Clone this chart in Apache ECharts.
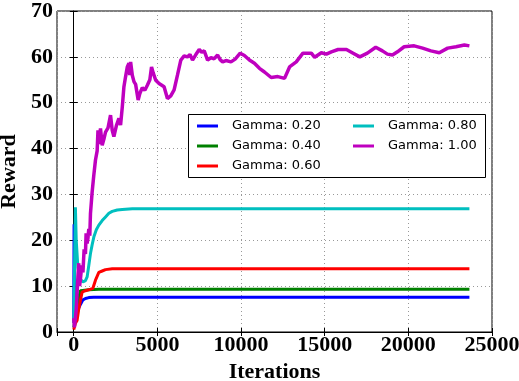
<!DOCTYPE html>
<html>
<head>
<meta charset="utf-8">
<script src="https://cdn.jsdelivr.net/npm/echarts@6/dist/echarts.min.js"></script>
<style>
  html, body { margin: 0; padding: 0; background: #fff; }
  #chart { width: 519px; height: 381px; }
</style>
</head>
<body>
<div id="chart"></div>
<script>
// Reward curves per discount factor, as [iteration, reward] pairs
const gamma020 = [[0, 2], [20, 23.5], [50, 3], [150, 3.5], [250, 4.8], [400, 6], [550, 7], [700, 7.3], [900, 7.5], [1200, 7.6], [23650, 7.6]];
const gamma040 = [[0, 1], [100, 3], [200, 5.4], [300, 7.5], [400, 9], [500, 9.1], [900, 9.2], [1500, 9.3], [23650, 9.3]];
const gamma060 = [[0, 0.5], [100, 1.9], [200, 2.5], [300, 5], [400, 6.9], [500, 8.7], [700, 9], [900, 9.2], [1140, 9.5], [1300, 11.3], [1500, 13.0], [1700, 13.3], [1900, 13.6], [2300, 13.8], [23650, 13.8]];
const gamma080 = [[0, 2], [50, 15], [100, 27.2], [150, 20], [250, 14], [400, 11.5], [550, 10.9], [700, 11.2], [800, 12], [900, 14.5], [1000, 17.1], [1100, 19], [1200, 20.7], [1350, 22.3], [1500, 23.3], [1700, 24.3], [1900, 25.1], [2100, 25.9], [2300, 26.3], [2600, 26.6], [2900, 26.7], [3500, 26.9], [23650, 26.9]];
const gamma100 = [[0, 3], [40, 1.0], [150, 5], [250, 12], [300, 15], [350, 10], [400, 11.5], [480, 14.5], [550, 13], [620, 18], [700, 17], [740, 21.5], [800, 19.3], [850, 20.5], [900, 22.5], [960, 21], [1000, 25.8], [1100, 30.5], [1200, 34.2], [1300, 37.5], [1400, 39.5], [1450, 44], [1500, 41], [1600, 44.4], [1700, 40.7], [1800, 42], [1900, 43.6], [2050, 44.5], [2200, 47.3], [2300, 44], [2400, 42.6], [2550, 45], [2700, 46.6], [2800, 45.1], [2900, 49], [3000, 53.5], [3100, 55.7], [3200, 57.8], [3300, 58.6], [3350, 56], [3400, 58.9], [3500, 56], [3600, 54.6], [3700, 54], [3850, 50.6], [3950, 52], [4100, 53.3], [4250, 52.7], [4400, 53.8], [4550, 55], [4650, 57.8], [4750, 56.5], [4900, 54.9], [5100, 54.2], [5400, 53.5], [5600, 50.9], [5800, 51.5], [6000, 52.8], [6200, 56], [6400, 59.3], [6600, 60.2], [6800, 60.0], [6950, 60.5], [7100, 59.3], [7300, 60.5], [7500, 61.6], [7650, 61.0], [7800, 61.3], [8000, 59.3], [8200, 59.8], [8400, 59.6], [8600, 60.4], [8750, 59.4], [8900, 58.9], [9100, 59.2], [9400, 58.9], [9650, 59.5], [9950, 60.8], [10200, 60.3], [10500, 59.3], [10800, 58.6], [11100, 57.5], [11400, 56.7], [11800, 55.5], [12200, 55.7], [12600, 55.3], [12900, 57.8], [13300, 58.9], [13700, 60.8], [14200, 60.8], [14400, 59.9], [14800, 60.9], [15100, 60.6], [15400, 61.1], [15800, 61.6], [16300, 61.6], [16700, 60.8], [17100, 60.0], [17200, 59.9], [17550, 60.8], [18050, 62.1], [18450, 61.3], [18750, 60.6], [19050, 60.4], [19350, 61.1], [19750, 62.2], [20350, 62.4], [20850, 61.9], [21350, 61.3], [21850, 60.9], [22350, 61.9], [22850, 62.2], [23350, 62.6], [23650, 62.4]];

const seriesNames = ['Gamma: 0.20', 'Gamma: 0.40', 'Gamma: 0.60', 'Gamma: 0.80', 'Gamma: 1.00'];
const seriesData = [gamma020, gamma040, gamma060, gamma080, gamma100];
const seriesColors = ['#0000ff', '#008000', '#ff0000', '#00bfbf', '#bf00bf'];
const seriesWidths = [3, 3, 3, 3, 3.5];

const xRange = [-1000, 25000];
const yRange = [0, 70];

const tickFont = { fontFamily: 'Liberation Serif', fontWeight: 'bold', fontSize: 22, color: '#000' };
const gridLine = { show: true, lineStyle: { color: '#999', type: [1, 3], width: 1 } };
const innerTick = { show: true, inside: true, length: 4, lineStyle: { color: '#000', width: 1 } };

const chart = echarts.init(document.getElementById('chart'), null, { renderer: 'canvas' });

const legendText = { fontFamily: 'DejaVu Sans', fontSize: 13, color: '#000', lineHeight: 20, padding: [0, 0, 0, 9] };
const legendCommon = {
  orient: 'vertical', padding: 0, itemGap: 0, itemWidth: 21, itemHeight: 3,
  icon: 'rect', textStyle: legendText, selectedMode: false, top: 116
};

chart.setOption({
  animation: false,
  backgroundColor: '#fff',
  grid: { left: 57, right: 27, top: 11, bottom: 49, outerBoundsMode: 'none', show: true, borderColor: '#000', borderWidth: 1, backgroundColor: 'transparent' },
  xAxis: [{
    type: 'value', min: xRange[0], max: xRange[1], splitNumber: 5, minInterval: 5000, maxInterval: 5000,
    name: 'Iterations', nameLocation: 'middle', nameGap: 24, nameTextStyle: tickFont,
    axisLine: { show: true, lineStyle: { color: '#000', width: 1 } },
    axisTick: innerTick,
    axisLabel: Object.assign({ margin: 2, formatter: v => (v < 0 ? '' : String(v)) }, tickFont),
    splitLine: gridLine
  }, {
    type: 'value', position: 'top', min: xRange[0], max: xRange[1], splitNumber: 5, minInterval: 5000, maxInterval: 5000,
    axisLine: { show: false }, axisTick: innerTick, axisLabel: { show: false }, splitLine: { show: false }
  }],
  yAxis: [{
    type: 'value', min: yRange[0], max: yRange[1], interval: 10,
    name: 'Reward', nameLocation: 'middle', nameGap: 28, nameTextStyle: tickFont,
    axisLine: { show: true, lineStyle: { color: '#000', width: 1 } },
    axisTick: innerTick,
    axisLabel: Object.assign({ margin: 4 }, tickFont),
    splitLine: gridLine
  }, {
    type: 'value', position: 'right', min: yRange[0], max: yRange[1], interval: 10,
    axisLine: { show: false }, axisTick: innerTick, axisLabel: { show: false }, splitLine: { show: false }
  }],
  legend: [
    Object.assign({ left: 197, data: seriesNames.slice(0, 3) }, legendCommon),
    Object.assign({ left: 353, data: seriesNames.slice(3) }, legendCommon)
  ],
  graphic: [{
    type: 'rect', z: 3,
    shape: { x: 188.5, y: 114.5, width: 297, height: 63 },
    style: { fill: '#fff', stroke: '#000', lineWidth: 1 }
  }],
  series: seriesData.map((d, i) => ({
    name: seriesNames[i], type: 'line', data: d, showSymbol: false, symbol: 'none',
    color: seriesColors[i], lineStyle: { width: seriesWidths[i], color: seriesColors[i] },
    xAxisIndex: 0, yAxisIndex: 0
  }))
});
</script>
</body>
</html>
